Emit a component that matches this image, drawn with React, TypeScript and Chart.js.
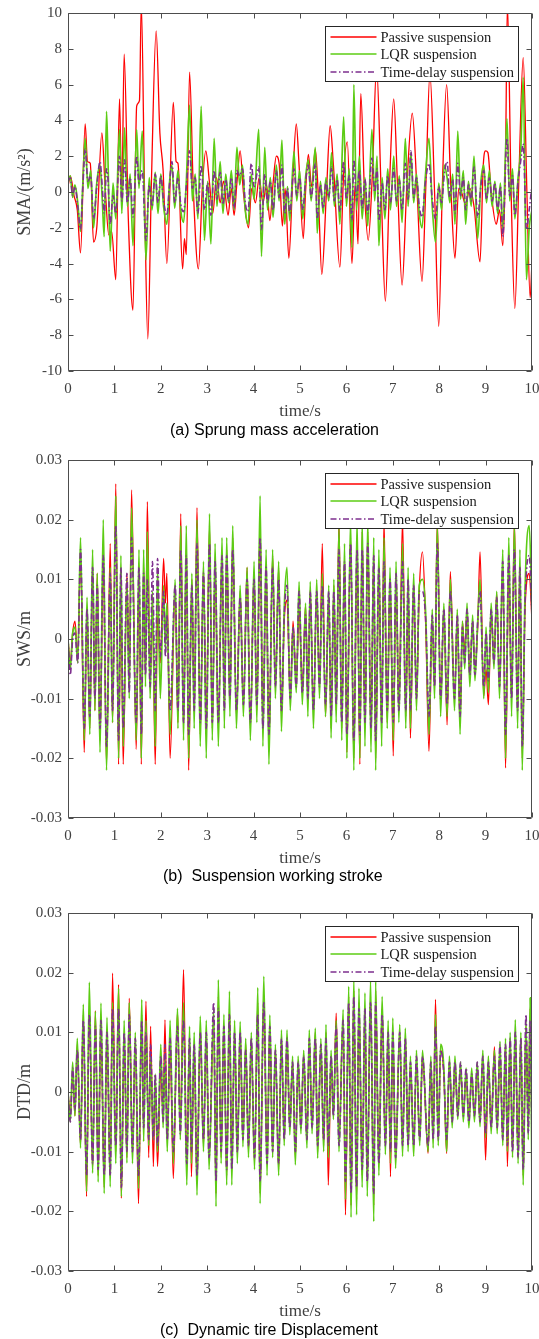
import React, { useEffect, useRef } from "react";
import { Chart, registerables } from "chart.js";

Chart.register(...registerables);

// ---------------- tick labels ----------------
const timeTicks = [0, 1, 2, 3, 4, 5, 6, 7, 8, 9, 10];
const smaTicks = [-10, -8, -6, -4, -2, 0, 2, 4, 6, 8, 10];
const strokeTicks = [-0.03, -0.02, -0.01, 0, 0.01, 0.02, 0.03];
const seriesNames = ["Passive suspension", "LQR suspension", "Time-delay suspension"];

// ---------------- (a) Sprung mass acceleration, m/s^2 ----------------
const aPassiveT = [0,0.05,0.13,0.2,0.27,0.37,0.42,0.48,0.55,0.62,0.73,0.8,0.88,0.94,1.03,1.11,1.16,1.21,1.3,1.4,1.48,1.54,1.58,1.65,1.72,1.8,1.9,1.98,2.05,2.13,2.27,2.33,2.37,2.47,2.51,2.55,2.62,2.7,2.81,2.9,2.97,3.05,3.12,3.2,3.28,3.35,3.45,3.52,3.58,3.64,3.71,3.78,3.89,3.96,4.04,4.12,4.2,4.28,4.35,4.42,4.49,4.55,4.62,4.68,4.76,4.84,4.92,4.98,5.07,5.12,5.18,5.25,5.33,5.4,5.47,5.57,5.65,5.72,5.86,5.94,6.02,6.12,6.19,6.25,6.31,6.39,6.47,6.56,6.65,6.75,6.84,6.93,7.02,7.1,7.2,7.3,7.42,7.52,7.63,7.71,7.8,7.9,7.99,8.07,8.16,8.25,8.34,8.42,8.48,8.57,8.66,8.75,8.88,8.95,9.0,9.05,9.12,9.23,9.3,9.37,9.43,9.47,9.55,9.63,9.72,9.81,9.89,9.96,10];
const aPassive = [0.3,0.9,-0.2,-1.0,-3.4,3.8,1.7,1.6,-2.8,-2.0,3.3,0.3,-2.4,-2.2,-4.9,5.2,-0.3,7.7,-1.5,-6.6,4.8,5.1,10.5,0,-8.2,0.8,9.0,3.3,1.2,-4.0,5.0,1.7,1.6,-4.3,-2.6,-3.5,6.7,0.2,-4.3,0.5,2.3,0.5,-1.2,0.8,-0.6,0.6,-1.3,0.2,-1.3,0.5,2.3,0.0,-2.0,0.2,-0.6,0.8,-0.6,0.4,-1.6,0.5,2.0,1.6,-1.9,0.2,-3.7,0.5,3.8,1.5,-2.6,0,2.1,0.3,2.4,-0.5,-4.6,0,3.7,1.5,-4.2,1.0,2.8,-4.0,0.5,-2.9,5.5,0,-2.7,1.0,7.0,0,-6.1,0.5,5.2,0.5,-5.2,0.2,4.4,0.2,-5.0,0.2,6.6,0,-7.5,0.5,6.0,0.3,-3.7,0.2,0,-0.7,0.2,-0.8,-3.9,1.5,2.3,2.2,0,-1.8,-1.0,-3.0,2.0,10.5,0,-6.5,1.0,7.5,0,-5.9,-3.9];
const aCtrlT = [0,0.05,0.1,0.15,0.21,0.27,0.32,0.37,0.43,0.49,0.55,0.62,0.69,0.74,0.78,0.83,0.86,0.91,0.97,1.03,1.11,1.16,1.22,1.28,1.34,1.4,1.48,1.53,1.6,1.68,1.75,1.81,1.88,1.94,2.0,2.06,2.13,2.19,2.24,2.3,2.37,2.43,2.49,2.55,2.62,2.68,2.74,2.8,2.87,2.94,3.01,3.08,3.15,3.21,3.28,3.34,3.4,3.46,3.52,3.58,3.64,3.7,3.76,3.82,3.88,3.95,4.01,4.11,4.17,4.24,4.3,4.36,4.42,4.49,4.55,4.61,4.67,4.73,4.78,4.87,4.93,4.99,5.06,5.12,5.18,5.24,5.33,5.37,5.44,5.5,5.56,5.62,5.68,5.74,5.8,5.86,5.94,6.0,6.06,6.12,6.16,6.22,6.28,6.34,6.4,6.46,6.55,6.61,6.66,6.7,6.77,6.83,6.89,6.95,7.02,7.08,7.14,7.2,7.27,7.33,7.39,7.45,7.51,7.57,7.63,7.7,7.78,7.85,7.92,7.99,8.05,8.11,8.17,8.23,8.29,8.34,8.4,8.46,8.52,8.57,8.63,8.69,8.75,8.83,8.9,8.96,9.02,9.08,9.14,9.2,9.26,9.32,9.37,9.46,9.52,9.58,9.63,9.7,9.76,9.81,9.88,9.94,10];
const aLQR = [0.5,0.9,-0.3,0.4,-0.6,-2.2,0.5,3.0,0.2,1.2,-2.0,0.5,1.5,-0.5,-2.5,4.5,2.0,-3.3,0.5,-1.5,3.5,-1.2,3.6,-0.8,1.0,-3.0,3.5,0.2,3.4,-3.8,0.8,-1.0,1.1,-1.2,1.0,-0.8,-1.8,0.6,1.5,-0.9,1.2,-1.0,-1.7,0.6,4.85,-0.5,1.0,-1.5,4.8,-2.7,0.6,-2.9,3.0,-0.8,1.7,-1.2,1.0,-0.6,1.2,-1.0,2.5,0.4,1.5,-1.0,-1.8,1.0,-0.4,3.5,-3.6,2.5,-1.0,0.8,-1.4,1.5,-0.5,2.9,-1.8,0.3,-1.6,2.25,-0.5,1.2,-1.5,0.8,1.8,-0.5,2.5,-2.3,0.6,-1.2,0.8,-0.5,2.2,-0.8,1.0,-1.8,4.2,-0.8,1.3,-3.1,6.0,-1.0,2.0,-1.5,0.8,-1.9,3.5,-0.5,2.0,-3.0,0.8,-1.5,1.3,-1.0,2.0,-0.8,0.9,-1.7,3.0,-0.8,2.2,-0.6,1.0,-1.2,-2.0,0.8,3.0,-0.8,-2.8,0.5,-1.0,1.5,0.8,-0.6,1.0,-1.8,3.4,-0.4,1.2,-1.8,0.6,-0.8,2.0,-2.6,0.6,1.5,-0.6,1.2,-0.8,0.6,-1.2,0.5,-2.1,4.1,-0.5,1.3,-1.5,0.8,2.5,6.4,-4.9,-2.0,-1.0];
const aDelay = [0.6,0.8,-0.2,0.3,-0.8,-2.1,0.3,2.4,0.6,0.9,-1.5,0.3,1.7,0.2,-1.2,1.3,0.8,-1.8,-0.2,-1.2,2.0,-0.5,1.8,-0.6,0.8,-1.4,2.0,0.5,1.2,-2.7,0.4,-0.8,1.0,-0.6,0.9,-0.5,-1.3,0.5,1.7,-0.6,0.8,-0.7,-1.1,0.3,2.3,0.2,0.8,-1.2,1.5,-1.0,0.5,-1.3,1.2,-0.4,1.1,-0.7,0.7,-0.5,0.8,-0.9,1.2,0.9,1.3,-0.6,-1.1,1.6,0.3,1.4,-2.1,1.0,-0.6,0.6,-1.0,1.2,-0.3,1.5,-1.2,0.2,-1.2,1.3,-0.2,0.8,-1.0,0.6,1.5,-0.3,1.6,-1.5,0.4,-0.9,0.6,-0.3,1.4,-0.5,0.7,-1.1,1.7,-0.4,0.9,-1.6,1.8,-0.5,1.2,-0.9,0.7,-1.2,1.9,0.0,1.3,-1.6,0.5,-1.0,0.9,-0.6,1.3,-0.5,0.7,-1.0,1.6,-0.4,2.3,-0.3,0.8,-0.8,-1.4,0.5,1.6,-0.4,-1.5,0.3,-0.6,1.0,1.7,-0.3,0.7,-1.2,1.6,-0.2,0.8,-1.0,0.4,-0.5,1.4,-1.4,0.4,1.2,-0.4,0.8,-0.5,0.5,-1.0,0.3,-2.5,3.0,-0.2,0.9,-1.3,0.6,1.8,2.7,-2.1,-1.0,0.4];

// ---------------- (b) Suspension working stroke, mm ----------------
const bT = [0,0.05,0.1,0.15,0.21,0.27,0.35,0.41,0.47,0.53,0.58,0.63,0.69,0.76,0.83,0.91,0.96,1.03,1.09,1.14,1.19,1.27,1.32,1.37,1.47,1.53,1.58,1.63,1.67,1.71,1.77,1.82,1.88,1.93,1.99,2.06,2.1,2.13,2.2,2.31,2.37,2.43,2.49,2.55,2.6,2.67,2.72,2.78,2.85,2.92,2.98,3.05,3.11,3.17,3.24,3.32,3.37,3.42,3.49,3.55,3.63,3.71,3.78,3.86,3.93,4.01,4.07,4.14,4.2,4.27,4.33,4.41,4.47,4.54,4.6,4.66,4.72,4.79,4.85,4.92,4.98,5.05,5.12,5.17,5.22,5.29,5.36,5.42,5.48,5.55,5.62,5.67,5.73,5.78,5.84,5.9,5.96,6.01,6.09,6.16,6.23,6.29,6.34,6.4,6.46,6.53,6.59,6.63,6.7,6.76,6.81,6.88,6.94,7.01,7.07,7.13,7.21,7.28,7.33,7.38,7.45,7.51,7.57,7.64,7.71,7.78,7.85,7.9,7.96,8.03,8.1,8.17,8.24,8.33,8.39,8.45,8.5,8.55,8.6,8.66,8.72,8.77,8.83,8.88,8.96,9.01,9.06,9.12,9.18,9.24,9.3,9.37,9.43,9.5,9.56,9.62,9.69,9.74,9.79,9.85,9.94,10];
const bPassive = [0,-4,1,3,-3,14,-19,5,-15,12,-12,11,-17,13,-21,16,-14,26,-21,8,-21,11,-8,25,-18.5,10,-21,12,-6,23,-7,5,-21,4,-4,13.5,6,11,-20,8,-14,21,-15,15,-22,10,-12,22,-16,12,-14,19,-15,12,-15,14,-12,15,-10,17,-13,8,-11,12,-15,11,-12,19,-15,12,-18,14,-8,12,-13,3,6.5,-10,3,-7.4,5,-8,5.7,-10,8,-12,8,-8,16,-13,7,-15,9,-12,20,-15,14,-19,17,-20,16,-21,18,-15,18,-16,14,-20,12,-15,20,-14,10,-19.6,11,-12,20,-13,8,-16.6,9,-10,8,14.6,2,-18.8,4,-8,20,-11,5,-14.4,11.3,-10,4,-14,3,-2,5,-6,3,-5,2,14.6,-9.6,-5,-11,4,-3,7.7,-8,12,-21.6,12,-10,20,-12,12,-20,5,11,3];
const bLQR = [0,-5,1,2,-4,17,-17,7,-16,15,-12,11,-19,20,-22,12,-14,24,-20,14,-18,10,-10,22,-17,15,-20,15,-8,18,-10,8,-18,12,-10,9,-2,6,-16,10,-15,19,-17,19,-20,11,-15,20,-18,13,-20,21,-17,16,-18,17,-15,17,-13,19,-15,9,-13,12,-17,13,-14,24,-18,15,-21,15,-10,13,-15.5,5,12,-12,2,-9,9.6,-11,6,-13,9.6,-15,10,-10,11,-13,9,-16.6,10,-14,19,-17,16,-20,20,-22,20,-20,20,-18,20,-19,17,-22,15,-18,17,-15,12,-17,13,-14,16,-15,12,-15,11,-12,9,10,4,-16,5,-10,19,-13,6,-13,10,-12,5,-16,3,-5,6,-8,4,-7,3,10,-10,2,-9,6,-5,8,-10,15,-20,17,-13,19,-15,15,-22,8,19,5];
const bDelay = [0,-6,0,1,-4,15,-15,5,-13,12,-10,9,-15,14,-18,11,-12,19,-17,12,-15,11,-9,17,-14,12,-16,11,-6,10,-8,13,-12,13.5,-3,8,-3,4,-12,9,-12,15,-14,14,-16,9,-12,16,-14,11,-15,16,-14,13,-14,14,-12,14,-10,15,-12,7,-11,10,-14,10,-11,17,-15,12,-16,12,-8,10,-12,4,9,-10,2,-8,8,-9,4,-10,8,-12,8,-8,9,-11,8,-13,8,-11,15,-14,13,-16,16,-17,15,-16,15,-14,16,-15,14,-17,12,-14,13,-12,10,-14,11,-12,13,-12,10,-12,9,-10,8,8,3,-13,4,-8,16,-10,5,-11,8,-10,4,-13,2,-4,5,-6,3,-6,3,8,-8,1,-7,5,-4,7,-8,13,-16,14,-10,15,-12,12,-18,6,14,4];

// ---------------- (c) Dynamic tire displacement, mm ----------------
const cT = [0,0.05,0.1,0.15,0.2,0.27,0.33,0.4,0.46,0.53,0.59,0.65,0.71,0.78,0.84,0.91,0.96,1.03,1.09,1.15,1.21,1.27,1.32,1.39,1.45,1.52,1.59,1.63,1.68,1.74,1.78,1.84,1.88,1.93,2.0,2.05,2.09,2.14,2.2,2.27,2.36,2.42,2.49,2.56,2.62,2.66,2.72,2.78,2.85,2.92,2.98,3.04,3.14,3.19,3.24,3.3,3.36,3.42,3.48,3.53,3.59,3.65,3.71,3.77,3.83,3.89,3.95,4.02,4.09,4.14,4.22,4.29,4.35,4.41,4.47,4.54,4.6,4.66,4.72,4.78,4.84,4.9,4.96,5.02,5.08,5.15,5.2,5.26,5.33,5.38,5.45,5.51,5.56,5.61,5.67,5.72,5.78,5.84,5.93,5.98,6.05,6.1,6.16,6.22,6.27,6.34,6.4,6.45,6.52,6.59,6.63,6.7,6.77,6.84,6.9,6.95,7.0,7.06,7.15,7.21,7.27,7.33,7.38,7.45,7.51,7.58,7.64,7.76,7.82,7.87,7.92,7.98,8.03,8.1,8.16,8.22,8.28,8.34,8.4,8.46,8.52,8.58,8.64,8.7,8.76,8.82,8.88,8.94,9.0,9.06,9.12,9.19,9.25,9.31,9.37,9.43,9.47,9.53,9.58,9.64,9.7,9.76,9.81,9.87,9.92,9.96,10];
const cPassive = [0,-4,3,-4,8,-9,13,-17.5,14,-13,13.6,-14,12,-16,10,-14,19.9,-10,18,-17.8,9,-11,15.7,-10,8,-18.7,13,-6,15.2,-11,11,-12.5,2,-12.5,4,-4,12.1,-8,8,-14.5,13.5,-6,20.5,-12,9,-14.2,8,-15,10,-9,10,-11,12,-17,16,-11,11,-14,14,-13,10,-10,10,-8,8,-10,9,-12,15,-17,16,-12,11,-10,7,-13,9,-8,9,-6,5,-11,5,-6,6,-8,9,-6,10,-10,8,-9,10,-15.6,6,-4,13.2,-8,12,-20.6,16,-19,17,-18,15,-14,14,-15,16,-19,17,-12,14,-9,10,-14.2,10,-11,10,-9,9,-9,5,-9,5,-8,6,-10.3,5,-8,15.5,-8,7,3,-10.3,5,-5,5,-4,4,-4,3,-5,3,-4,4,-5,6,-11.4,5,-6,7.6,-6,7,-8,8,-12.5,9,-10,10,-11,9,-14,11,-6,14,-9];
const cLQR = [0,-5,5,-4,9,-9.4,14.7,-16.7,18.4,-13.6,13.5,-15.1,14.9,-17,12.5,-15.9,15,-12,17.4,-17.5,12,-11.9,15,-12,10,-16.2,15.5,-8.3,12,-9,6,-8,3,-10,8,-6,6,-10,12,-12,14,-8,15,-15.6,11,-12,10,-17.3,12.7,-10,12,-13,14,-19.2,18.8,-12,13,-15.6,16.9,-15.6,12,-12,11.8,-9.2,9,-11,10,-13,17.5,-18.7,19.4,-14,12.9,-11,8,-14,10.4,-9,10.4,-7.2,6,-12.2,6,-7,7,-9.4,10.4,-7,10.7,-11.1,9,-10,11.3,-11,7,-4.6,12,-10,13.8,-18,17.7,-21,19.1,-20.6,17.4,-16,16.6,-17.5,18.8,-21.7,18.5,-14,16,-10.5,12,-12,12.4,-12.8,11.3,-10.8,10.7,-10,6,-10.8,7,-9,7,-10,6,-9.4,13,-9,8,4,-10,6,-6,6,-4.6,5,-5,4,-6,4,-5,5,-5.8,7,-7.7,6,-7,7,-7,8.5,-9,9,-10,10,-11,12.1,-12,10,-15.6,12,-8,15.8,-17];
const cDelay = [0,-5,4,-3,7,-8,12,-14,13,-12,11,-13,12,-14,10,-14,14,-9,14,-16,10,-10,13,-10,9,-14,12,-6,10,-8,8,-8,3,-9,6,-5,8,-8,9,-10,11,-7,12,-12,9,-10,8,-14,10,-8,10,-11,15,-15,14,-10,11,-13,13,-13,10,-10,10,-8,7,-9,9,-11,13,-15,15,-12,11,-10,7,-12,9,-8,9,-6,5,-10,5,-6,6,-8,9,-6,9,-9,8,-8,9,-9,6,-4,11,-9,12,-15,15,-17,16,-16,14,-13,14,-15,15,-17,15,-12,13,-9,10,-10,10,-11,10,-9,9,-9,5,-9,6,-8,6,-9,5,-8,11,-8,7,3,-8,5,-5,5,-4,5,-4,4,-5,3,-4,5,-5,6,-7,5,-6,6,-6,8,-8,8,-9,9,-10,10,-11,9,-13,13,-7,12,-9];

// ---------------- styles ----------------
const SERIF = '"Liberation Serif", "Times New Roman", serif';
const SANS = '"Liberation Sans", Arial, sans-serif';
const RED = "#ff0000";
const GREEN = "#5ccc14";
const PURPLE = "#7e2f8e";
const AXIS_COLOR = "#4d4d4d";
const TICK_COLOR = "#404040";
const PAD_TOP = 13;
const PLOT_H = 358;
const XAXIS_H = 51;
const CANVAS_H = PAD_TOP + PLOT_H + XAXIS_H;

type Line = { name: string; t: number[]; v: number[]; k: number; color: string; width: number; dash: number[] };

function toPoints(t: number[], v: number[], k: number) {
  const n = Math.min(t.length, v.length);
  const out: { x: number; y: number }[] = [];
  for (let i = 0; i < n; i++) out.push({ x: t[i], y: v[i] * k });
  return out;
}

function Panel(props: {
  top: number;
  yTitle: string;
  yTicks: number[];
  fmt: (v: number) => string;
  lines: Line[];
}) {
  const ref = useRef<HTMLCanvasElement | null>(null);
  useEffect(() => {
    const canvas = ref.current;
    if (!canvas) return;
    const { yTicks, lines, fmt, yTitle } = props;

    const framePlugin = {
      id: "frameTicks",
      afterDatasetsDraw(chart: any) {
        const { ctx, chartArea: a, scales } = chart;
        const L = Math.round(a.left) + 0.5;
        const R = Math.round(a.right) - 0.5;
        const T = Math.round(a.top) + 0.5;
        const B = Math.round(a.bottom) - 0.5;
        const len = 5;
        ctx.save();
        ctx.strokeStyle = AXIS_COLOR;
        ctx.lineWidth = 1;
        ctx.setLineDash([]);
        ctx.beginPath();
        ctx.rect(L, T, R - L, B - T);
        scales.x.ticks.forEach((tk: any) => {
          const px = Math.round(scales.x.getPixelForValue(tk.value)) + 0.5;
          ctx.moveTo(px, B);
          ctx.lineTo(px, B - len);
          ctx.moveTo(px, T);
          ctx.lineTo(px, T + len);
        });
        scales.y.ticks.forEach((tk: any) => {
          const py = Math.round(scales.y.getPixelForValue(tk.value)) + 0.5;
          ctx.moveTo(L, py);
          ctx.lineTo(L + len, py);
          ctx.moveTo(R, py);
          ctx.lineTo(R - len, py);
        });
        ctx.stroke();
        ctx.restore();
      },
    };

    const legendPlugin = {
      id: "legendBox",
      afterDraw(chart: any) {
        const { ctx, chartArea: a } = chart;
        const w = 193;
        const h = 55;
        const x0 = Math.round(a.right - 14 - w) + 0.5;
        const y0 = Math.round(a.top + 13) + 0.5;
        ctx.save();
        ctx.fillStyle = "#ffffff";
        ctx.fillRect(x0, y0, w, h);
        ctx.strokeStyle = "#262626";
        ctx.lineWidth = 1;
        ctx.setLineDash([]);
        ctx.strokeRect(x0, y0, w, h);
        ctx.font = `14.5px ${SERIF}`;
        ctx.textBaseline = "middle";
        ctx.textAlign = "left";
        lines.forEach((ln, i) => {
          const yy = Math.round(y0 + 10 + i * 17.8);
          ctx.beginPath();
          ctx.strokeStyle = ln.color;
          ctx.lineWidth = ln.width;
          ctx.setLineDash(ln.dash);
          ctx.moveTo(x0 + 5, yy);
          ctx.lineTo(x0 + 51, yy);
          ctx.stroke();
          ctx.setLineDash([]);
          ctx.fillStyle = "#1a1a1a";
          ctx.fillText(ln.name, x0 + 55, yy + 1);
        });
        ctx.restore();
      },
    };

    const chart = new Chart(canvas, {
      type: "line",
      data: {
        datasets: lines.map((ln, i) => ({
          label: ln.name,
          data: toPoints(ln.t, ln.v, ln.k),
          borderColor: ln.color,
          backgroundColor: ln.color,
          borderWidth: ln.width,
          borderDash: ln.dash,
          pointRadius: 0,
          pointHoverRadius: 0,
          fill: false,
          cubicInterpolationMode: "monotone" as const,
          order: lines.length - i,
        })),
      },
      options: {
        animation: false,
        responsive: false,
        devicePixelRatio: 1,
        events: [],
        layout: { padding: { left: 0, right: 7, top: PAD_TOP, bottom: 0 } },
        plugins: { legend: { display: false }, tooltip: { enabled: false }, title: { display: false } },
        scales: {
          x: {
            type: "linear",
            min: 0,
            max: 10,
            afterBuildTicks: (s: any) => {
              s.ticks = timeTicks.map((v) => ({ value: v }));
            },
            afterFit: (s: any) => {
              s.height = XAXIS_H;
              s.paddingLeft = 0;
              s.paddingRight = 0;
              s.paddingTop = 0;
              s.paddingBottom = 0;
            },
            grid: { display: false, drawTicks: false },
            border: { display: false },
            ticks: {
              font: { family: SERIF, size: 15 },
              color: TICK_COLOR,
              padding: 9,
              maxRotation: 0,
              autoSkip: false,
              callback: (v: any) => String(v),
            },
            title: {
              display: true,
              text: "time/s",
              font: { family: SERIF, size: 17 },
              color: TICK_COLOR,
              padding: { top: 0, bottom: 0 },
            },
          },
          y: {
            type: "linear",
            min: yTicks[0],
            max: yTicks[yTicks.length - 1],
            afterBuildTicks: (s: any) => {
              s.ticks = yTicks.map((v) => ({ value: v }));
            },
            afterFit: (s: any) => {
              s.width = 68;
              s.paddingTop = 0;
              s.paddingBottom = 0;
              s.paddingLeft = 0;
              s.paddingRight = 0;
            },
            grid: { display: false, drawTicks: false },
            border: { display: false },
            ticks: {
              font: { family: SERIF, size: 15 },
              color: TICK_COLOR,
              padding: 6,
              autoSkip: false,
              callback: (v: any) => fmt(Number(v)),
            },
            title: {
              display: true,
              text: yTitle,
              font: { family: SERIF, size: 18 },
              color: TICK_COLOR,
              padding: { top: 14, bottom: 0 },
            },
          },
        },
      },
      plugins: [framePlugin, legendPlugin],
    } as any);
    return () => chart.destroy();
  }, []);
  return (
    <canvas
      ref={ref}
      width={539}
      height={CANVAS_H}
      style={{ position: "absolute", left: 0, top: props.top, width: 539, height: CANVAS_H }}
    />
  );
}

const fmtInt = (v: number) => String(Math.round(v));
const fmtStroke = (v: number) => {
  const r = Math.round(v * 100) / 100;
  return r === 0 ? "0" : r.toFixed(2);
};

function linesFor(
  pt: number[], p: number[], ct: number[], l: number[], dt: number[], d: number[], k: number
): Line[] {
  return [
    { name: seriesNames[0], t: pt, v: p, k, color: RED, width: 1.3, dash: [] },
    { name: seriesNames[1], t: ct, v: l, k, color: GREEN, width: 1.7, dash: [] },
    { name: seriesNames[2], t: dt, v: d, k, color: PURPLE, width: 1.6, dash: [6, 2.5, 1.5, 2.5] },
  ];
}

const captionStyle = (left: number, top: number): React.CSSProperties => ({
  position: "absolute",
  left,
  top,
  fontFamily: SANS,
  fontSize: 16,
  lineHeight: "20px",
  color: "#000",
  whiteSpace: "pre",
});

export default function App() {
  const aLines = linesFor(aPassiveT, aPassive, aCtrlT, aLQR, aCtrlT, aDelay, 1);
  const bLines = linesFor(bT, bPassive, bT, bLQR, bT, bDelay, 0.001);
  const cLines = linesFor(cT, cPassive, cT, cLQR, cT, cDelay, 0.001);
  return (
    <div style={{ position: "absolute", left: 0, top: 0, width: 539, height: 1339, background: "#fff", overflow: "hidden" }}>
      <Panel top={0} yTitle="SMA/(m/s²)" yTicks={smaTicks} fmt={fmtInt} lines={aLines} />
      <div style={captionStyle(170, 420)}>(a) Sprung mass acceleration</div>
      <Panel top={447} yTitle="SWS/m" yTicks={strokeTicks} fmt={fmtStroke} lines={bLines} />
      <div style={captionStyle(163, 866)}>(b)  Suspension working stroke</div>
      <Panel top={900} yTitle="DTD/m" yTicks={strokeTicks} fmt={fmtStroke} lines={cLines} />
      <div style={captionStyle(160, 1320)}>(c)  Dynamic tire Displacement</div>
    </div>
  );
}
